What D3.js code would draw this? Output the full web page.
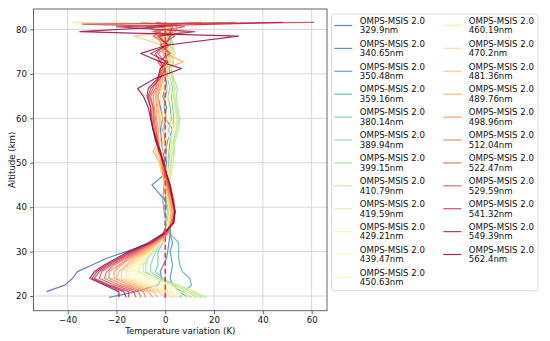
<!DOCTYPE html>
<html lang="en">
<head>
<meta charset="UTF-8">
<title>OMPS-MSIS temperature variation</title>
<script src="https://d3js.org/d3.v7.min.js"></script>
<style>
  body { margin: 0; background: #fff; }
  svg { font-family: "DejaVu Sans", sans-serif; }
</style>
</head>
<body>
<script>
// altitude levels (km), shared by all profiles
const altitude = [19.7, 21, 22.5, 24, 25.5, 27, 28.5, 30, 32, 34,
  36.5, 39, 41.5, 45, 47.5, 50, 52.5, 55, 57.5, 60, 62.5, 65, 66.7, 69,
  71.2, 72.7, 74.6, 76.5, 78.5, 79.5, 80.6, 81.2, 81.6];

const wavelength = ["329.9", "340.65", "350.48", "359.16", "380.14", "389.94", "399.15",
  "410.79", "419.59", "429.21", "439.47", "450.63", "460.19", "470.2", "481.36",
  "489.76", "498.96", "512.04", "522.47", "529.59", "541.32", "549.39", "562.4"];

// temperature variation (K), one row per wavelength, same order as altitude
const variation = [
  [null, -48.6, -41, -38, -36, -30, -24, -16, -5.5, -1, 1, 1.5, 1, 0, -0.5, 0, -1, -1.5, -2, -1, -2, -3, -2, -1, 0, 1, 0, 1, 0, 0, null, null, null],
  [-23, -12, -3, -1.5, -2, -0.8, 0.5, 1, 1.5, 2, 2, 1, 0, -5.5, 0, 0.5, 0, 1, 3, 0, 0.5, -1, 0, 1, 0, 2, 1, 0, 1, 0.5, null, null, null],
  [9, 6, 3, 2, 2.5, 3, 2.5, 2, 3, 2, 2, 1.5, 0.5, 0, -1, -0.5, 0.5, 0, -1, 0.5, -0.5, 0, 1, 0, 1.5, 1, 2, 1, 2, 1, null, null, null],
  [6, 7.5, 10.8, 10, 7, 6, 5.5, 5.5, 5.5, 2, 1, -0.5, -1, -0.5, 0, 1, 1.5, 2, 1.5, 2.5, 2, 1, 2, 1, 2, 1, 3, 2, 1, 1, null, null, null],
  [11, 7, 3, -1, -4, -3, -3, -3, -1, 0.5, 1, 0, 0.5, 0, 1, 1.5, 2, 2.5, 3, 3.5, 3, 2.5, 3, 2, 1, 2, 3, 2, 2, 0.5, null, null, null],
  [13, 9, 4, -2, -6, -6, -5, -4, -2, 0, 1.5, 1, 0.5, 0.5, 1.5, 2, 3, 3.5, 4.5, 5, 4, 3.5, 4, 3, 2, 3, 2, 3, 1.5, 1, null, null, null],
  [15, 10, 4, -3, -8, -8, -7, -5, -3, 0, 1, 1.5, 1, 1, 2, 2.5, 3.5, 4, 5.5, 6, 5, 4.5, 5, 3.5, 2.5, 3.5, 2.5, 3.5, 2, 1, null, null, null],
  [17, 12, 5, -3, -9, -9, -7, -6, -3, 0, 1.5, 1, 1.5, 1.5, 2.5, 3, 4, 3.5, 5, 5.5, 4.5, 4, 3.5, 3, 2, 3, 4, 3, 2.5, 1.5, null, null, null],
  [16, 11, 3, -5, -11, -10, -8, -6, -3, 0, 2, 1.5, 1, 1, 2, 3.5, 3, 4, 4.5, 5, 4, 3.5, 4, 2.5, 2, 3, 3.5, 2, 1, 2, 1, null, null],
  [14, 9, 1, -7, -12, -10, -8, -6, -2, 0.5, 1.5, 2, 1.5, 0.5, 1.5, 3, 2.5, 3, 3.5, 4, 3.5, 3, 2.5, 2, 1, 2.5, 3, 1.5, 0, 2, 0, 3, 12],
  [12, 6, -2, -10, -13, -11, -9, -6, -2, 0.5, 1, 2, 1, 0, 1, 2, 2, 2.5, 3, 3, 2.5, 2, 2, 1.5, 1, 2, 2.5, 1, 0.5, 1, -1, -2, -8],
  [9, 3, -5, -12, -14, -12, -9, -6, -2, 1, 1.5, 2.5, 1.5, 0, 0.5, 1, 1, 1.5, 2, 2, 1.5, 1, 1, 1, 0, 1, 2, 0, -1, 2, 0, 1, 25],
  [6, 1, -7, -14, -15, -13, -10, -6, -2, 1, 1.5, 2, 1, -0.5, -0.5, 0, 0, 0.5, 1, 0.5, 0, 0, -0.5, 0, -1, 1, 3, 0, -2, -6, 3, 0, -20],
  [3, -1, -9, -16, -16, -14, -11, -7, -3, 1, 1.5, 2, 1, 0, -1, -2, -1, -1, -0.5, -1, -1.5, -2, -1, -0.5, 0, 2, 1, 1, -2, 3, -1, 0, -38],
  [0, -3, -11, -18, -18, -15, -12, -7, -3, 1, 2, 2.5, 1.5, 0, -1.5, -2.5, -4, -2, -1.5, -2, -2.5, -3, -2, -1, -1, 0, 2, -1, -12.8, 1, 2, -1, 22],
  [-3, -5, -13, -20, -19, -16, -13, -8, -3, 1, 2, 2.5, 2, 0.5, -1, -2, -5, -3, -2.5, -2.5, -3, -3.5, -2.5, -1.5, -0.5, 7.4, 0, -2, -1, 8, -3, 2, 5],
  [-5, -7, -15, -21, -21, -18, -14, -9, -4, 1, 2.5, 3, 2, 0.5, -1, -1.5, -3, -3, -3, -3.5, -3.5, -4, -3, -2, -2, 1, -1, -1, -4, 3, -2, -1, -10],
  [-8, -9, -17, -23, -23, -19, -15, -10, -4, 0.5, 2.5, 3.5, 2.5, 1, -0.5, -1.5, -2, -3.5, -3.5, -4, -4.5, -5, -3.5, -2.5, -1, -2, 1, 0, -2, 4, 5, 0, 29],
  [-10, -11, -19, -25, -24, -21, -16, -11, -5, 0.5, 3, 3.5, 3, 1, 0, -1, -2, -3, -4, -4.5, -5, -6, -4, -3, -2, 0, -3, 2, -5, -2, -8, 1, 15],
  [-12, -13, -21, -27, -26, -22, -17, -12, -5, 0, 3, 4, 3, 1.5, 0, -0.5, -2.5, -3.5, -4.5, -5, -5, -6.5, -5, -3, -1, -3, 2, -2, 4, -5, 8, 2, -4],
  [-15, -15, -23, -29, -27, -23, -18, -13, -6, 0, 3, 4, 3, 1.5, 0.5, -0.5, -2, -4, -5, -5.5, -6, -7, -6, -2, 0, -2, -4, 0, 2, 2, 3, -34, 61],
  [-16, -17, -24, -30, -28, -24, -19, -14, -6, -0.5, 3.5, 4, 3.5, 2, 0.5, -0.5, -2.5, -4, -5, -6, -6, -7.5, -7, -3, -2, 1, -6, 1, -3, 12, -20, 21, 48],
  [-19, -19, -25, -31, -29, -25, -20, -15, -7, -1, 3.5, 4, 3, 2, 0.5, -1, -2, -3.5, -5, -6, -7, -9, -11.3, -4, 6.7, -2, -10, 1, 30, -35, 0, 0, 0]
];

const xTicks = [-40, -20, 0, 20, 40, 60];
const yTicks = [20, 30, 40, 50, 60, 70, 80];

const W = 550, H = 341;
const plot = {left: 33.5, right: 327, top: 9, bottom: 310.7};
const fs = 8.6;
const ink = "#111";

const svg = d3.select("body").append("svg")
  .attr("width", W).attr("height", H);

const x = d3.scaleLinear().domain([-54, 66.3]).range([plot.left, plot.right]);
const y = d3.scaleLinear().domain([16.7, 84.6]).range([plot.bottom, plot.top]);

// reversed Spectral, blue end just short of the purple
const color = i => d3.interpolateSpectral((wavelength.length - 1 - i) / wavelength.length);

// grid
const grid = svg.append("g").attr("stroke", "#d4d4d4").attr("stroke-width", 0.9);
grid.selectAll(".gx").data(xTicks).join("line")
  .attr("x1", d => x(d)).attr("x2", d => x(d))
  .attr("y1", plot.top).attr("y2", plot.bottom);
grid.selectAll(".gy").data(yTicks).join("line")
  .attr("x1", plot.left).attr("x2", plot.right)
  .attr("y1", d => y(d)).attr("y2", d => y(d));

// profiles
const line = d3.line()
  .defined(d => d[1] != null)
  .x(d => x(d[1]))
  .y(d => y(d[0]));

svg.append("g").attr("fill", "none")
  .selectAll("path")
  .data(variation)
  .join("path")
  .attr("stroke", (d, i) => color(i))
  .attr("stroke-width", 1.2)
  .attr("stroke-opacity", 0.85)
  .attr("stroke-linejoin", "round")
  .attr("d", d => line(altitude.map((a, k) => [a, d[k]])));

// zero reference
svg.append("line")
  .attr("x1", x(0)).attr("x2", x(0))
  .attr("y1", y(19.6)).attr("y2", y(81.6))
  .attr("stroke", "#ff3838")
  .attr("stroke-width", 1.6)
  .attr("stroke-dasharray", "5,3");

// axes
const xAxis = d3.axisBottom(x).tickValues(xTicks).tickSize(3.5).tickPadding(3);
const yAxis = d3.axisLeft(y).tickValues(yTicks).tickSize(3.5).tickPadding(3);

const gx = svg.append("g").attr("transform", `translate(0,${plot.bottom})`).call(xAxis);
const gy = svg.append("g").attr("transform", `translate(${plot.left},0)`).call(yAxis);
[gx, gy].forEach(g => {
  g.select(".domain").remove();
  g.selectAll("line").attr("stroke", "#444").attr("stroke-width", 0.8);
  g.selectAll("text").attr("font-size", fs).attr("fill", ink)
    .attr("font-family", "DejaVu Sans");
});

svg.append("rect")
  .attr("x", plot.left).attr("y", plot.top)
  .attr("width", plot.right - plot.left).attr("height", plot.bottom - plot.top)
  .attr("fill", "none").attr("stroke", "#555").attr("stroke-width", 0.9);

svg.append("text")
  .attr("x", (plot.left + plot.right) / 2).attr("y", 333.5)
  .attr("text-anchor", "middle").attr("font-size", fs).attr("fill", ink)
  .text("Temperature variation (K)");

svg.append("text")
  .attr("transform", `translate(14.5,${(plot.top + plot.bottom) / 2}) rotate(-90)`)
  .attr("text-anchor", "middle").attr("font-size", fs).attr("fill", ink)
  .text("Altitude (km)");

// legend
const leg = svg.append("g");
leg.append("rect")
  .attr("x", 331.7).attr("y", 14).attr("width", 206.3).attr("height", 276.7)
  .attr("rx", 2.5).attr("fill", "#fff").attr("fill-opacity", 0.8)
  .attr("stroke", "#d6d6d6").attr("stroke-width", 0.9);

const rowsPerCol = 12, pitch = 22.9;
const items = leg.selectAll(".item").data(wavelength).join("g")
  .attr("transform", (d, i) => {
    const c = Math.floor(i / rowsPerCol), r = i % rowsPerCol;
    return `translate(${c ? 443.3 : 334.3},${20.7 + r * pitch})`;
  });
items.append("line")
  .attr("x1", 0).attr("x2", 18).attr("y1", 4.8).attr("y2", 4.8)
  .attr("stroke", (d, i) => color(i)).attr("stroke-width", 1.2)
  .attr("stroke-opacity", 0.85);
items.append("text")
  .attr("x", 25.5).attr("font-size", fs).attr("fill", ink)
  .attr("dy", "0.35em")
  .text("OMPS-MSIS 2.0");
items.append("text")
  .attr("x", 25.5).attr("y", 9.6).attr("font-size", fs).attr("fill", ink)
  .attr("dy", "0.35em")
  .text(d => d + "nm");
</script>
</body>
</html>
